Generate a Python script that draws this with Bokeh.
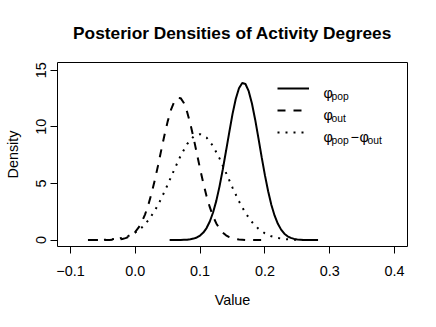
from bokeh.plotting import figure
from bokeh.models import Range1d, FixedTicker, Legend, LegendItem, Label
from bokeh.embed import file_html
from bokeh.resources import INLINE

# ---- data ----
pop_x = [0.053, 0.060, 0.065, 0.070, 0.075, 0.080, 0.085, 0.090, 0.095, 0.100,
         0.105, 0.110, 0.115, 0.120, 0.125, 0.130, 0.135, 0.140, 0.145, 0.150,
         0.155, 0.160, 0.165, 0.170, 0.175, 0.180, 0.185, 0.190, 0.195, 0.200,
         0.205, 0.210, 0.215, 0.220, 0.225, 0.230, 0.235, 0.240, 0.245, 0.250,
         0.255, 0.260, 0.265, 0.270, 0.275, 0.282]
pop_y = [0.00, 0.00, 0.00, 0.01, 0.02, 0.03, 0.07, 0.13, 0.23, 0.40,
         0.66, 1.06, 1.64, 2.43, 3.46, 4.74, 6.23, 7.86, 9.51, 11.12,
         12.46, 13.41, 13.87, 13.78, 13.15, 12.06, 10.63, 9.00, 7.32, 5.73,
         4.31, 3.10, 2.15, 1.43, 0.92, 0.56, 0.33, 0.19, 0.10, 0.05,
         0.03, 0.01, 0.01, 0.00, 0.00, 0.00]

out_x = [-0.072, -0.065, -0.060, -0.055, -0.050, -0.045, -0.040, -0.035, -0.030, -0.025,
         -0.020, -0.015, -0.010, -0.005, 0.000, 0.005, 0.010, 0.015, 0.020, 0.025,
         0.030, 0.035, 0.040, 0.045, 0.050, 0.055, 0.060, 0.065, 0.070, 0.075,
         0.080, 0.085, 0.090, 0.095, 0.100, 0.105, 0.110, 0.115, 0.120, 0.125,
         0.130, 0.135, 0.140, 0.145, 0.150, 0.155, 0.160, 0.165, 0.170, 0.175,
         0.180, 0.185, 0.195]
out_y = [0.00, 0.00, 0.00, 0.00, 0.00, 0.00, 0.01, 0.02, 0.03, 0.06,
         0.10, 0.17, 0.29, 0.46, 0.72, 1.09, 1.59, 2.25, 3.08, 4.11,
         5.27, 6.55, 7.92, 9.25, 10.48, 11.49, 12.21, 12.57, 12.53, 12.10,
         11.31, 10.25, 9.00, 7.64, 6.29, 5.02, 3.87, 2.90, 2.10, 1.47,
         1.00, 0.66, 0.42, 0.26, 0.16, 0.09, 0.05, 0.03, 0.01, 0.01,
         0.00, 0.00, 0.00]

diff_x = [-0.073, -0.060, -0.050, -0.040, -0.030, -0.020, -0.010, 0.000, 0.010, 0.020,
          0.030, 0.040, 0.050, 0.060, 0.070, 0.080, 0.090, 0.100, 0.110, 0.120,
          0.130, 0.140, 0.150, 0.160, 0.170, 0.180, 0.190, 0.200, 0.210, 0.220,
          0.230, 0.240, 0.250, 0.260, 0.265]
diff_y = [0.00, 0.01, 0.02, 0.05, 0.10, 0.20, 0.38, 0.66, 1.10, 1.73,
          2.58, 3.65, 4.89, 6.20, 7.45, 8.48, 9.15, 9.35, 9.05, 8.30,
          7.21, 5.94, 4.63, 3.42, 2.39, 1.59, 1.00, 0.59, 0.33, 0.18,
          0.09, 0.04, 0.02, 0.01, 0.00]

x_ticks = [-0.1, 0.0, 0.1, 0.2, 0.3, 0.4]
x_tick_labels = ["\u22120.1", "0.0", "0.1", "0.2", "0.3", "0.4"]
y_ticks = [0, 5, 10, 15]
y_tick_labels = ["0", "5", "10", "15"]

title_text = "Posterior Densities of Activity Degrees"
x_label = "Value"
y_label = "Density"

# ---- layout ----
FONT = "Liberation Sans"
X0, X1 = -0.12, 0.42
Y0, Y1 = -0.57, 15.68
FRAME_LEFT, FRAME_TOP, FRAME_W, FRAME_H = 57, 62, 350, 184  # pixels


def dx(px):
    return X0 + (px - FRAME_LEFT) / FRAME_W * (X1 - X0)


def dy(py):
    return Y1 - (py - FRAME_TOP) / FRAME_H * (Y1 - Y0)


p = figure(width=420, height=311, output_backend="svg", toolbar_location=None,
           x_range=Range1d(X0, X1), y_range=Range1d(Y0, Y1),
           min_border_left=57, min_border_right=13, min_border_top=62,
           min_border_bottom=65, title=title_text)

p.title.align = "center"
p.title.text_font = FONT
p.title.text_font_size = "17.3px"
p.title.text_font_style = "bold"
p.title.text_color = "black"
p.title.standoff = 39

p.grid.visible = False
p.outline_line_color = "black"
p.outline_line_width = 1
p.outline_line_alpha = 1
p.background_fill_color = "white"
p.border_fill_color = "white"

for ax in (p.xaxis[0], p.yaxis[0]):
    ax.axis_line_color = None
    ax.minor_tick_line_color = None
    ax.major_tick_in = 0
    ax.major_tick_out = 7
    ax.major_tick_line_color = "black"
    ax.major_tick_line_width = 1
    ax.major_label_text_font = FONT
    ax.major_label_text_font_size = "14.4px"
    ax.major_label_text_color = "black"
    ax.axis_label_text_font = FONT
    ax.axis_label_text_font_size = "14.4px"
    ax.axis_label_text_font_style = "normal"
    ax.axis_label_text_color = "black"

p.xaxis.ticker = FixedTicker(ticks=x_ticks)
p.xaxis.major_label_overrides = dict(zip(x_ticks, x_tick_labels))
p.xaxis.axis_label = x_label
p.xaxis.major_label_standoff = 12
p.xaxis.axis_label_standoff = 13

p.yaxis.ticker = FixedTicker(ticks=y_ticks)
p.yaxis.major_label_overrides = dict(zip(y_ticks, y_tick_labels))
p.yaxis.axis_label = y_label
p.yaxis.major_label_orientation = "vertical"
p.yaxis.major_label_standoff = 4
p.yaxis.axis_label_standoff = 13

r1 = p.line(pop_x, pop_y, line_width=2, line_color="black")
r2 = p.line(out_x, out_y, line_width=2, line_color="black", line_dash="8 8")
r3 = p.line(diff_x, diff_y, line_width=2, line_color="black", line_dash="2 6")

legend = Legend(items=[LegendItem(label=" ", renderers=[r1]),
                       LegendItem(label=" ", renderers=[r2]),
                       LegendItem(label=" ", renderers=[r3])],
                location=(220, 103), orientation="vertical",
                glyph_width=32, glyph_height=22, label_height=22, label_width=1,
                spacing=0, padding=0, margin=0, label_standoff=0,
                border_line_color=None, background_fill_alpha=0,
                label_text_font_size="1px")
p.add_layout(legend)

rows = [88.3, 110.3, 132.3]
legend_texts = [
    [("\u03c6", 323, 0), ("pop", 331, 1)],
    [("\u03c6", 323, 0), ("out", 331, 1)],
    [("\u03c6", 323, 0), ("pop", 331, 1), ("\u2212", 350, 0), ("\u03c6", 359, 0), ("out", 367, 1)],
]
for c, parts in zip(rows, legend_texts):
    for txt, px, sub in parts:
        p.add_layout(Label(x=dx(px), y=dy(c + (7.5 if sub else 3.8)), text=txt,
                           text_font=FONT,
                           text_font_size="10.3px" if sub else "14.4px",
                           text_baseline="alphabetic", text_align="left",
                           text_color="black"))

open("out.html", "w").write(file_html(p, INLINE))
